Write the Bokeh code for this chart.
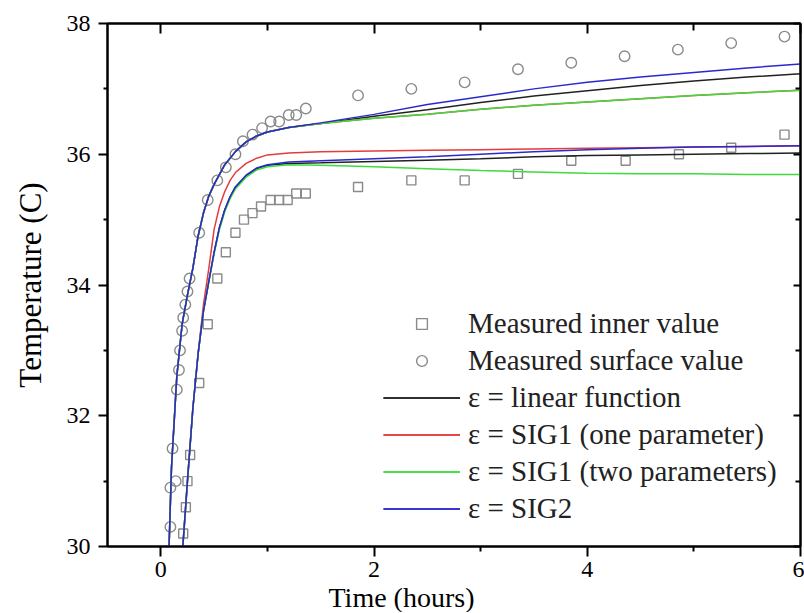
from bokeh.plotting import figure
from bokeh.models import (Range1d, LinearAxis, FixedTicker, Legend, LegendItem,
                          Title)
from bokeh.embed import file_html
from bokeh.resources import INLINE

# ---------------- data ----------------
# measured points
inner_t = [0.21, 0.235, 0.25, 0.275, 0.36, 0.44, 0.53, 0.61, 0.70, 0.78, 0.86, 0.94,
           1.03, 1.11, 1.19, 1.27, 1.36, 1.85, 2.35, 2.85, 3.35, 3.85, 4.36, 4.86, 5.35, 5.85]
inner_T = [30.2, 30.6, 31.0, 31.4, 32.5, 33.4, 34.1, 34.5, 34.8, 35.0, 35.1, 35.2,
           35.3, 35.3, 35.3, 35.4, 35.4, 35.5, 35.6, 35.6, 35.7, 35.9, 35.9, 36.0, 36.1, 36.3]

surf_t = [0.09, 0.09, 0.11, 0.14, 0.15, 0.17, 0.18, 0.20, 0.21, 0.23, 0.25, 0.27, 0.36,
          0.44, 0.53, 0.61, 0.70, 0.77, 0.86, 0.95, 1.03, 1.11, 1.20, 1.27, 1.36,
          1.85, 2.35, 2.85, 3.35, 3.85, 4.35, 4.85, 5.35, 5.85]
surf_T = [30.3, 30.9, 31.5, 31.0, 32.4, 32.7, 33.0, 33.3, 33.5, 33.7, 33.9, 34.1, 34.8,
          35.3, 35.6, 35.8, 36.0, 36.2, 36.3, 36.4, 36.5, 36.5, 36.6, 36.6, 36.7,
          36.9, 37.0, 37.1, 37.3, 37.4, 37.5, 37.6, 37.7, 37.8]

# model curves, surface
fit_surf_t = [0.07, 0.10, 0.15, 0.20, 0.25, 0.30, 0.35, 0.40, 0.45, 0.50, 0.60, 0.70, 0.80,
              0.90, 1.00, 1.20, 1.50, 2.00, 2.50, 3.00, 3.50, 4.00, 4.50, 5.00, 5.50, 6.00]
lin_surf = [29.6, 31.2, 32.6, 33.4, 33.85, 34.25, 34.75, 35.1, 35.36, 35.54, 35.84, 36.04, 36.19,
            36.28, 36.34, 36.41, 36.47, 36.58, 36.68, 36.79, 36.89, 36.97, 37.05, 37.12, 37.18, 37.23]
sig1a_surf = [29.6, 31.2, 32.6, 33.4, 33.85, 34.25, 34.75, 35.1, 35.36, 35.54, 35.84, 36.04, 36.19,
              36.28, 36.34, 36.41, 36.47, 36.55, 36.61, 36.69, 36.75, 36.80, 36.85, 36.90, 36.94, 36.98]
sig1b_surf = [29.6, 31.2, 32.6, 33.4, 33.85, 34.25, 34.75, 35.1, 35.36, 35.54, 35.84, 36.04, 36.19,
              36.28, 36.34, 36.41, 36.47, 36.55, 36.61, 36.69, 36.75, 36.80, 36.85, 36.90, 36.94, 36.98]
sig2_surf = [29.6, 31.2, 32.6, 33.4, 33.85, 34.25, 34.75, 35.1, 35.36, 35.54, 35.84, 36.04, 36.19,
             36.28, 36.34, 36.41, 36.48, 36.61, 36.76, 36.88, 37.00, 37.10, 37.18, 37.25, 37.32, 37.38]

# model curves, inner
fit_inner_t = [0.20, 0.25, 0.30, 0.35, 0.40, 0.45, 0.50, 0.55, 0.60, 0.65, 0.70, 0.80, 0.90,
               1.00, 1.20, 1.50, 2.00, 2.50, 3.00, 3.50, 4.00, 4.50, 5.00, 5.50, 6.00]
lin_inner = [29.85, 31.0, 32.1, 32.95, 33.6, 34.05, 34.5, 34.88, 35.15, 35.35, 35.5, 35.67, 35.78,
             35.83, 35.86, 35.87, 35.89, 35.91, 35.93, 35.96, 35.98, 35.99, 36.00, 36.01, 36.02]
sig1a_inner = [29.85, 31.0, 32.1, 32.95, 33.7, 34.25, 34.85, 35.2, 35.43, 35.6, 35.72, 35.86, 35.94,
               35.99, 36.02, 36.04, 36.05, 36.06, 36.07, 36.08, 36.09, 36.10, 36.11, 36.12, 36.13]
sig1b_inner = [29.85, 31.0, 32.1, 32.95, 33.6, 34.05, 34.48, 34.85, 35.12, 35.32, 35.47, 35.65, 35.76,
               35.81, 35.84, 35.83, 35.81, 35.78, 35.75, 35.73, 35.71, 35.70, 35.70, 35.69, 35.69]
sig2_inner = [29.85, 31.0, 32.1, 32.95, 33.6, 34.05, 34.5, 34.88, 35.15, 35.35, 35.5, 35.68, 35.79,
              35.84, 35.88, 35.90, 35.93, 35.96, 36.00, 36.04, 36.07, 36.09, 36.11, 36.12, 36.13]

x_ticks = [0, 2, 4, 6]
x_minor = [1, 3, 5]
y_ticks = [30, 32, 34, 36, 38]
y_minor = [31, 33, 35, 37]

labels = ["Measured inner value", "Measured surface value", "\u03b5 = linear function",
          "\u03b5 = SIG1 (one parameter)", "\u03b5 = SIG1 (two parameters)", "\u03b5 = SIG2"]

# ---------------- figure ----------------
FONT = "Liberation Serif"
p = figure(frame_width=693, frame_height=523,
           x_range=Range1d(-0.5, 6), y_range=Range1d(30, 38),
           output_backend="svg", toolbar_location=None,
           min_border_left=107, min_border_top=23, min_border_right=4, min_border_bottom=0,
           background_fill_color="white", border_fill_color="white")
p.xgrid.visible = False
p.ygrid.visible = False
p.outline_line_color = "black"
p.outline_line_width = 2

def style_axis(ax, ticks, minor, tin, tout, min_in, min_out, show_labels):
    ax.ticker = FixedTicker(ticks=ticks, minor_ticks=minor)
    ax.axis_line_width = 2
    ax.axis_line_color = "black"
    ax.major_tick_line_width = 2
    ax.minor_tick_line_width = 2
    ax.major_tick_line_color = "black"
    ax.minor_tick_line_color = "black"
    ax.major_tick_in = tin
    ax.major_tick_out = tout
    ax.minor_tick_in = min_in
    ax.minor_tick_out = min_out
    ax.major_label_text_font = FONT
    ax.major_label_text_font_size = "24px"
    ax.major_label_text_color = "black"
    if not show_labels:
        ax.major_label_overrides = {t: "" for t in ticks}
        ax.major_label_standoff = 0

style_axis(p.xaxis[0], x_ticks, x_minor, 0, 10, 0, 5, True)
style_axis(p.yaxis[0], y_ticks, y_minor, 0, 9, 0, 4, True)
p.xaxis.major_label_standoff = 5
p.yaxis.major_label_standoff = 8

p.yaxis.axis_label = "Temperature (C)"
p.yaxis.axis_label_text_font = FONT
p.yaxis.axis_label_text_font_size = "31px"
p.yaxis.axis_label_text_font_style = "normal"
p.yaxis.axis_label_text_color = "black"
p.yaxis.axis_label_standoff = 16

top = LinearAxis()
style_axis(top, x_ticks, x_minor, 10, 0, 7, 0, False)
p.add_layout(top, "above")
right = LinearAxis()
style_axis(right, y_ticks, y_minor, 7, 0, 5, 0, False)
p.add_layout(right, "right")

xtitle = Title(text="Time (hours)", align="left", offset=221, text_font=FONT,
               text_font_size="28px", text_font_style="normal", text_color="black",
               text_line_height=1.0, standoff=0)
p.add_layout(xtitle, "below")

# ---------------- glyphs ----------------
MARK = "#8a8a8a"
r_sq = p.scatter(inner_t, inner_T, marker="square", size=9, fill_color=None,
                 line_color=MARK, line_width=1.4)
r_ci = p.scatter(surf_t, surf_T, marker="circle", size=10.5, fill_color=None,
                 line_color=MARK, line_width=1.4)

BLACK, RED, GREEN, BLUE = "#222222", "#e23c3c", "#3ddc3d", "#2a2acc"
LW = 1.5
rl1 = p.line(fit_surf_t, lin_surf, line_color=BLACK, line_width=LW)
rl2 = p.line(fit_inner_t, lin_inner, line_color=BLACK, line_width=LW)
rr1 = p.line(fit_surf_t, sig1a_surf, line_color=RED, line_width=LW)
rr2 = p.line(fit_inner_t, sig1a_inner, line_color=RED, line_width=LW)
rg1 = p.line(fit_surf_t, sig1b_surf, line_color=GREEN, line_width=LW)
rg2 = p.line(fit_inner_t, sig1b_inner, line_color=GREEN, line_width=LW)
rb1 = p.line(fit_surf_t, sig2_surf, line_color=BLUE, line_width=LW)
rb2 = p.line(fit_inner_t, sig2_inner, line_color=BLUE, line_width=LW)

legend = Legend(items=[
    LegendItem(label=labels[0], renderers=[r_sq]),
    LegendItem(label=labels[1], renderers=[r_ci]),
    LegendItem(label=labels[2], renderers=[rl1, rl2]),
    LegendItem(label=labels[3], renderers=[rr1, rr2]),
    LegendItem(label=labels[4], renderers=[rg1, rg2]),
    LegendItem(label=labels[5], renderers=[rb1, rb2]),
], location=(276, 21))
legend.background_fill_alpha = 0
legend.border_line_color = None
legend.padding = 0
legend.margin = 0
legend.spacing = 4
legend.glyph_width = 77
legend.glyph_height = 27
legend.label_height = 27
legend.label_standoff = 8
legend.label_text_font = FONT
legend.label_text_font_size = "29px"
legend.label_text_color = "#222222"
p.add_layout(legend, "center")

open("out.html", "w").write(file_html(p, INLINE))
